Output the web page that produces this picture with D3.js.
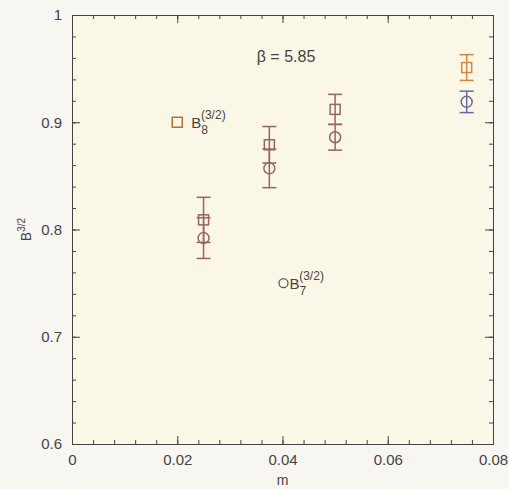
<!DOCTYPE html>
<html><head><meta charset="utf-8">
<script src="https://cdn.jsdelivr.net/npm/d3@7"></script>
<style>body{margin:0;background:#f7f6f1;}text{font-family:"Liberation Sans",Arial,sans-serif;fill:#444;}</style>
</head><body>
<svg id="c" width="509" height="489"></svg>
<script>
const mValues = [0.025, 0.0375, 0.05, 0.075];
const b8 = [0.809, 0.879, 0.912, 0.951];
const b8Err = [0.021, 0.017, 0.014, 0.012];
const b7 = [0.792, 0.857, 0.886, 0.919];
const b7Err = [0.019, 0.018, 0.012, 0.010];
const b8Colors = ["#9a6558", "#9a6558", "#9a6558", "#d4873c"];
const b7Colors = ["#9a6558", "#9a6558", "#9a6558", "#6a6a9a"];
const xTicks = [0, 0.02, 0.04, 0.06, 0.08];
const yTicks = [0.6, 0.7, 0.8, 0.9, 1];

const svg = d3.select("#c");
const L = 72, R = 493, T = 15, B = 444;
const x = d3.scaleLinear().domain([0, 0.08]).range([L, R]);
const y = d3.scaleLinear().domain([0.6, 1]).range([B, T]);

svg.append("rect").attr("x", L).attr("y", T).attr("width", R - L).attr("height", B - T).attr("fill", "#faf7e7");

const axCol = "#444";
const xMinor = d3.range(0, 0.0801, 0.004);
const yMinor = d3.range(0.6, 1.0001, 0.02);
const fmt = d => d === 0 ? "0" : (d === 1 ? "1" : d3.format("")(+d.toFixed(3)));

const gB = svg.append("g").attr("transform", `translate(0,${B})`)
  .call(d3.axisBottom(x).tickValues(xTicks).tickSize(-8).tickPadding(10).tickFormat(fmt));
const gBm = svg.append("g").attr("transform", `translate(0,${B})`)
  .call(d3.axisBottom(x).tickValues(xMinor).tickSize(-4).tickFormat(""));
const gT = svg.append("g").attr("transform", `translate(0,${T})`)
  .call(d3.axisTop(x).tickValues(xTicks).tickSize(-8).tickFormat(""));
const gTm = svg.append("g").attr("transform", `translate(0,${T})`)
  .call(d3.axisTop(x).tickValues(xMinor).tickSize(-4).tickFormat(""));
const gL = svg.append("g").attr("transform", `translate(${L},0)`)
  .call(d3.axisLeft(y).tickValues(yTicks).tickSize(-8).tickPadding(10).tickFormat(fmt));
const gLm = svg.append("g").attr("transform", `translate(${L},0)`)
  .call(d3.axisLeft(y).tickValues(yMinor).tickSize(-4).tickFormat(""));
const gR = svg.append("g").attr("transform", `translate(${R},0)`)
  .call(d3.axisRight(y).tickValues(yTicks).tickSize(-8).tickFormat(""));
const gRm = svg.append("g").attr("transform", `translate(${R},0)`)
  .call(d3.axisRight(y).tickValues(yMinor).tickSize(-4).tickFormat(""));
[gB, gBm, gT, gTm, gL, gLm, gR, gRm].forEach(g => {
  g.selectAll("path").attr("stroke", axCol).attr("stroke-width", 1);
  g.selectAll("line").attr("stroke", axCol).attr("stroke-width", 1);
  g.selectAll("text").attr("font-size", 15).style("fill", "#444");
});

svg.append("text").attr("x", x(0.04)).attr("y", 485).attr("text-anchor", "middle").attr("font-size", 14).text("m");
const yl = svg.append("text").attr("transform", `translate(31,${y(0.8)}) rotate(-90)`).attr("text-anchor", "middle").attr("font-size", 14);
yl.append("tspan").text("B");
yl.append("tspan").attr("dy", -6).attr("font-size", 10).text("3/2");

svg.append("text").attr("x", 286).attr("y", 62).attr("text-anchor", "middle").attr("font-size", 16).text("β = 5.85");

const cap = 7;
function drawSeries(vals, errs, cols, shape) {
  const g = svg.append("g");
  mValues.forEach((m, i) => {
    const cx = x(m), cy = y(vals[i]);
    const y1 = y(vals[i] + errs[i]), y2 = y(vals[i] - errs[i]);
    const c = cols[i];
    g.append("line").attr("x1", cx).attr("x2", cx).attr("y1", y1).attr("y2", y2).attr("stroke", c).attr("stroke-width", 1.5);
    [y1, y2].forEach(yy => g.append("line").attr("x1", cx - cap).attr("x2", cx + cap).attr("y1", yy).attr("y2", yy).attr("stroke", c).attr("stroke-width", 1.5));
    if (shape === "square") {
      g.append("rect").attr("x", cx - 5).attr("y", cy - 5).attr("width", 10).attr("height", 10).attr("fill", "none").attr("stroke", c).attr("stroke-width", 1.5);
    } else {
      g.append("circle").attr("cx", cx).attr("cy", cy).attr("r", 5.5).attr("fill", "none").attr("stroke", c).attr("stroke-width", 1.5);
    }
  });
}
drawSeries(b8, b8Err, b8Colors, "square");
drawSeries(b7, b7Err, b7Colors, "circle");

svg.append("rect").attr("x", x(0.02) - 5).attr("y", y(0.9) - 5).attr("width", 10).attr("height", 10).attr("fill", "none").attr("stroke", "#b07040").attr("stroke-width", 1.5);
const t8 = svg.append("text").attr("x", x(0.02) + 14).attr("y", y(0.9) + 6).attr("font-size", 15);
t8.append("tspan").text("B");
t8.append("tspan").attr("dy", 6).attr("font-size", 12).text("8");
t8.append("tspan").attr("dy", -15).attr("dx", -7).attr("font-size", 12).text("(3/2)");

svg.append("circle").attr("cx", x(0.04) + 1).attr("cy", y(0.75)).attr("r", 4.5).attr("fill", "none").attr("stroke", "#555").attr("stroke-width", 1.3);
const t7 = svg.append("text").attr("x", x(0.04) + 7).attr("y", y(0.75) + 6).attr("font-size", 15);
t7.append("tspan").text("B");
t7.append("tspan").attr("dy", 6).attr("font-size", 12).text("7");
t7.append("tspan").attr("dy", -15).attr("dx", -7).attr("font-size", 12).text("(3/2)");
</script>
</body></html>
